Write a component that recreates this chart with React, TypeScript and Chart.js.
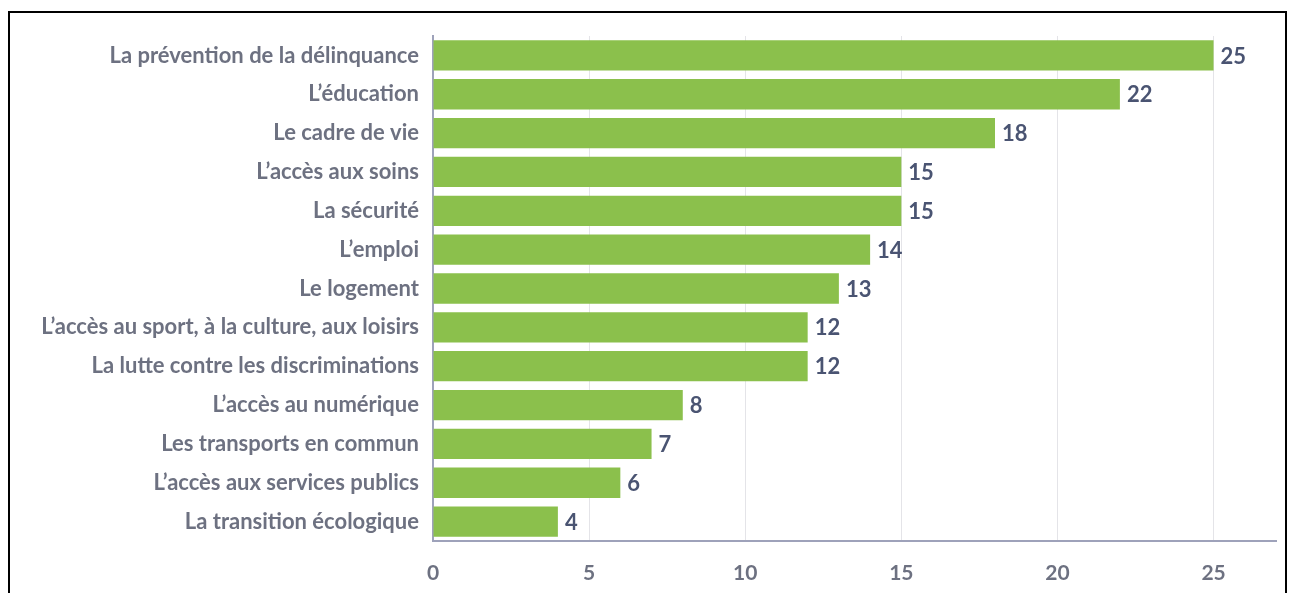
import React, { useEffect, useRef } from "react";
import { Chart, registerables } from "chart.js";

Chart.register(...registerables);

const categories = [
  "La prévention de la délinquance",
  "L’éducation",
  "Le cadre de vie",
  "L’accès aux soins",
  "La sécurité",
  "L’emploi",
  "Le logement",
  "L’accès au sport, à la culture, aux loisirs",
  "La lutte contre les discriminations",
  "L’accès au numérique",
  "Les transports en commun",
  "L’accès aux services publics",
  "La transition écologique",
];
const values = [25, 22, 18, 15, 15, 14, 13, 12, 12, 8, 7, 6, 4];
const xTicks = [0, 5, 10, 15, 20, 25];

const FONT = "Lato, 'Open Sans', sans-serif";

const valueLabels = {
  id: "valueLabels",
  afterDatasetsDraw(chart: any) {
    const ctx = chart.ctx;
    const meta = chart.getDatasetMeta(0);
    ctx.save();
    ctx.font = `bold 22px ${FONT}`;
    ctx.fillStyle = "#4a5472";
    ctx.textAlign = "left";
    ctx.textBaseline = "middle";
    meta.data.forEach((bar: any, i: number) => {
      ctx.fillText(String(values[i]), bar.x + 7, bar.y + 1);
    });
    ctx.restore();
  },
};

export default function App() {
  const ref = useRef<HTMLCanvasElement>(null);
  useEffect(() => {
    if (!ref.current) return;
    const chart = new Chart(ref.current, {
      type: "bar",
      data: {
        labels: categories,
        datasets: [
          {
            data: values,
            backgroundColor: "#8bc04c",
            borderWidth: 0,
            barPercentage: 0.78,
            categoryPercentage: 1,
          },
        ],
      },
      plugins: [valueLabels],
      options: {
        indexAxis: "y",
        animation: false,
        responsive: false,
        maintainAspectRatio: false,
        layout: { padding: { top: 36, right: 13, left: 0, bottom: 0 } },
        plugins: { legend: { display: false }, tooltip: { enabled: false } },
        scales: {
          x: {
            min: 0,
            max: 27,
            afterBuildTicks: (scale: any) => {
              scale.ticks = xTicks.map((v) => ({ value: v }));
            },
            afterFit: (scale: any) => {
              scale.height = 52;
            },
            grid: { color: "#e4e4e8", lineWidth: 1, drawTicks: false },
            border: { color: "#9ea2ba", width: 2 },
            ticks: {
              padding: 20,
              color: "#6d7181",
              font: { family: FONT, size: 21, weight: "bold" },
            },
          },
          y: {
            afterFit: (scale: any) => {
              scale.width = 433;
            },
            grid: { display: false, drawTicks: false },
            border: { color: "#9ea2ba", width: 2 },
            ticks: {
              padding: 14,
              color: "#6d7181",
              font: { family: FONT, size: 22, weight: "bold" },
            },
          },
        },
      },
    } as any);
    return () => chart.destroy();
  }, []);
  return (
    <div style={{ position: "fixed", left: 0, top: 0, width: 1289, height: 593, background: "#fff" }}>
      <canvas ref={ref} width={1289} height={593} style={{ position: "absolute", left: 0, top: 0 }} />
      <div
        style={{
          position: "absolute",
          left: 8,
          top: 11,
          width: 1275,
          height: 600,
          borderTop: "2px solid #000",
          borderLeft: "2px solid #000",
          borderRight: "2px solid #000",
          pointerEvents: "none",
        }}
      />
    </div>
  );
}
